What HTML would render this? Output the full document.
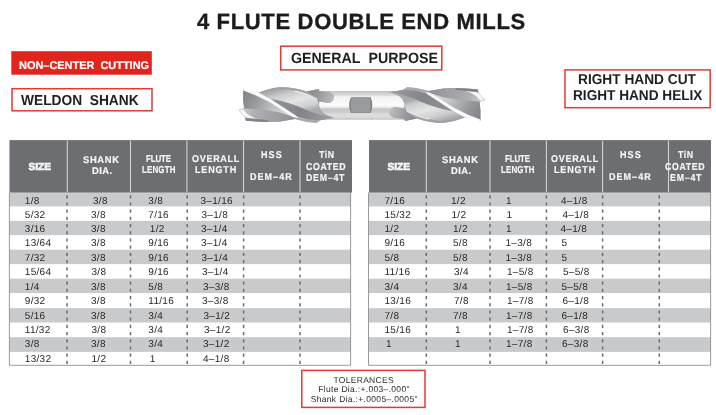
<!DOCTYPE html>
<html><head><meta charset="utf-8"><title>4 Flute Double End Mills</title>
<style>
html,body{margin:0;padding:0;background:#fff;}
body{width:716px;height:415px;position:relative;overflow:hidden;font-family:"Liberation Sans",sans-serif;text-rendering:geometricPrecision;}
.t{position:absolute;white-space:pre;line-height:1;transform-origin:0 50%;display:block;}
.b{position:absolute;}
svg{position:absolute;left:0;top:0;}
#txt{position:absolute;left:0;top:0;width:716px;height:415px;will-change:transform;}
</style></head><body>
<svg width="716" height="415" viewBox="0 0 716 415">

<defs>
<linearGradient id="sh" x1="0" y1="0" x2="0" y2="1">
<stop offset="0" stop-color="#b9babc"/><stop offset="0.06" stop-color="#cfd0d2"/><stop offset="0.14" stop-color="#d4d5d6"/>
<stop offset="0.2" stop-color="#f3f3f3"/><stop offset="0.5" stop-color="#fbfbfb"/><stop offset="0.58" stop-color="#e6e6e7"/>
<stop offset="0.62" stop-color="#c7c8ca"/><stop offset="0.74" stop-color="#c9cacc"/><stop offset="0.8" stop-color="#dddedf"/>
<stop offset="0.94" stop-color="#d9d9db"/><stop offset="1" stop-color="#b4b5b7"/>
</linearGradient>
<linearGradient id="g1" gradientUnits="userSpaceOnUse" x1="45" y1="60" x2="300" y2="200">
<stop offset="0" stop-color="#7e8185"/><stop offset="0.3" stop-color="#96989c"/><stop offset="0.7" stop-color="#c6c7c9"/><stop offset="1" stop-color="#dcdcde"/>
</linearGradient>
<linearGradient id="g2" gradientUnits="userSpaceOnUse" x1="300" y1="40" x2="340" y2="190">
<stop offset="0" stop-color="#a9abae"/><stop offset="0.18" stop-color="#c9cacc"/><stop offset="0.5" stop-color="#e4e4e5"/><stop offset="0.8" stop-color="#cfd0d2"/><stop offset="1" stop-color="#a7a9ac"/>
</linearGradient>
<linearGradient id="g3" gradientUnits="userSpaceOnUse" x1="30" y1="160" x2="330" y2="230">
<stop offset="0" stop-color="#cfd0d2"/><stop offset="0.25" stop-color="#aeb0b3"/><stop offset="1" stop-color="#8e9094"/>
</linearGradient>
<linearGradient id="g4" gradientUnits="userSpaceOnUse" x1="200" y1="110" x2="540" y2="210">
<stop offset="0" stop-color="#909296"/><stop offset="0.5" stop-color="#83858a"/><stop offset="1" stop-color="#9b9da0"/>
</linearGradient>
<linearGradient id="g5" gradientUnits="userSpaceOnUse" x1="400" y1="60" x2="545" y2="110">
<stop offset="0" stop-color="#85878b"/><stop offset="0.45" stop-color="#999b9f"/><stop offset="1" stop-color="#bcbec0"/>
</linearGradient>
<filter id="bl" x="-5%" y="-10%" width="110%" height="120%"><feGaussianBlur stdDeviation="0.4"/></filter>
<g id="cutter" transform="translate(235,80) scale(0.18155)">
  <!-- silhouette base -->
  <path d="M45 52 L90 66 L130 70 C180 52 220 40 260 40 C320 42 360 52 395 64 L460 50 L466 62 L520 68 Q548 78 545 95 Q542 118 520 127 L465 118 C460 140 465 165 485 182 C505 196 530 202 545 208 L470 222 L450 235 L400 232 L330 215 L250 228 L180 232 L60 225 L55 205 L20 165 L50 155 L45 110 Z" fill="#a1a3a6"/>
  <!-- lower flute -->
  <path d="M20 165 L50 155 C120 160 200 170 250 180 L330 200 L345 210 L330 215 L250 228 L180 232 L60 225 L55 205 Z" fill="url(#g3)"/>
  <path d="M26 166 L46 162 C60 185 90 205 125 214 L75 212 C55 205 40 190 26 166 Z" fill="#f7f7f7"/>
  <path d="M60 225 L57 208 L120 215 L185 222 L180 232 Z" fill="#818388"/>
  <!-- lower-right mid -->
  <path d="M330 197 L400 215 L470 222 L450 235 L400 232 L330 215 L345 210 Z" fill="#a9abae"/>
  <!-- left face -->
  <path d="M45 52 L110 80 L200 125 L330 205 L250 180 C200 170 120 160 50 155 L45 110 Z" fill="url(#g1)"/>
  <!-- dark band -->
  <path d="M195 108 C240 112 300 125 400 168 C450 188 500 200 545 208 L470 222 L400 216 L335 197 L260 150 Z" fill="url(#g4)"/>
  <!-- top flute -->
  <path d="M130 70 C180 52 220 40 260 40 C320 42 360 52 395 64 L452 100 C458 125 462 160 485 182 C505 196 530 202 545 208 C500 200 450 188 400 166 C300 123 240 108 195 104 Z" fill="url(#g2)"/>
  <!-- top edge shadow on top flute -->
  <path d="M260 40 C320 42 360 52 395 64 L452 100 L440 100 C400 78 340 58 270 50 C230 50 180 60 140 74 L130 70 C180 52 220 40 260 40 Z" fill="#9c9ea2" opacity="0.85"/>
  <path d="M330 58 C380 68 420 85 452 102 L447 108 C415 90 375 74 325 64 Z" fill="#e9e9ea"/>
  <!-- bright streak -->
  <path d="M45 52 L132 70 L200 108 L335 195 L348 210 L322 205 L192 122 L110 82 L45 58 Z" fill="#fafafa"/>
  <!-- tab -->
  <path d="M395 64 L460 50 L466 62 L520 68 Q548 78 545 95 Q542 118 520 127 L465 118 L452 100 Z" fill="url(#g5)"/>
</g>
</defs>
<g filter="url(#bl)">
<rect x="318" y="91" width="90" height="28.6" fill="url(#sh)"/>
<path d="M351 97.2 H370.6 Q374 105.1 370.6 113 H351 Q347.2 105.1 351 97.2 Z" fill="#7b7d81"/>
<path d="M351.6 97.5 H370 Q371.8 105.1 370 112.7 H351.6 Q349.6 105.1 351.6 97.5 Z" fill="#999b9e"/>
<use href="#cutter"/>
<use href="#cutter" transform="rotate(180 361.8 105)"/>
</g>

<rect x="280.70" y="46.20" width="161.10" height="23.70" fill="#fff" stroke="#e23a35" stroke-width="1.5"/>
<rect x="11.30" y="51.20" width="140.50" height="23.50" fill="#e2241c" />
<rect x="12.00" y="88.70" width="140.00" height="22.10" fill="#fff" stroke="#e23a35" stroke-width="1.5"/>
<rect x="565.00" y="69.90" width="145.20" height="37.80" fill="#fff" stroke="#e23a35" stroke-width="1.5"/>
<rect x="301.80" y="370.40" width="123.20" height="37.00" fill="#fff" stroke="#e23a35" stroke-width="1.5"/>
<rect x="9.40" y="192.60" width="341.60" height="13.80" fill="#c9cacc" />
<rect x="9.40" y="220.90" width="341.60" height="14.20" fill="#c9cacc" />
<rect x="9.40" y="249.70" width="341.60" height="14.40" fill="#c9cacc" />
<rect x="9.40" y="278.70" width="341.60" height="14.40" fill="#c9cacc" />
<rect x="9.40" y="308.20" width="341.60" height="14.30" fill="#c9cacc" />
<rect x="9.40" y="337.20" width="341.60" height="14.70" fill="#c9cacc" />
<path d="M9.40 192.60 V365.30 H350.60 V192.60" fill="none" stroke="#8e8f91" stroke-width="0.9"/>
<rect x="9.50" y="140.10" width="342.50" height="52.50" fill="#6d6e71" />
<line x1="67.30" y1="140.40" x2="67.30" y2="192.00" stroke="#d2d3d5" stroke-width="1.1" />
<line x1="130.50" y1="140.40" x2="130.50" y2="192.00" stroke="#d2d3d5" stroke-width="1.1" />
<line x1="186.90" y1="140.40" x2="186.90" y2="192.00" stroke="#d2d3d5" stroke-width="1.1" />
<line x1="243.50" y1="140.40" x2="243.50" y2="192.00" stroke="#d2d3d5" stroke-width="1.1" />
<line x1="300.00" y1="140.40" x2="300.00" y2="192.00" stroke="#d2d3d5" stroke-width="1.1" />
<line x1="67.00" y1="195.20" x2="67.00" y2="364.80" stroke="#6c6d6f" stroke-width="1.5" stroke-dasharray="3.2 4.0"/>
<line x1="130.50" y1="195.20" x2="130.50" y2="364.80" stroke="#6c6d6f" stroke-width="1.5" stroke-dasharray="3.2 4.0"/>
<line x1="187.20" y1="195.20" x2="187.20" y2="364.80" stroke="#6c6d6f" stroke-width="1.5" stroke-dasharray="3.2 4.0"/>
<line x1="243.60" y1="195.20" x2="243.60" y2="364.80" stroke="#6c6d6f" stroke-width="1.5" stroke-dasharray="3.2 4.0"/>
<line x1="300.00" y1="195.20" x2="300.00" y2="364.80" stroke="#6c6d6f" stroke-width="1.5" stroke-dasharray="3.2 4.0"/>
<rect x="368.50" y="192.60" width="342.50" height="13.80" fill="#c9cacc" />
<rect x="368.50" y="220.90" width="342.50" height="14.20" fill="#c9cacc" />
<rect x="368.50" y="249.70" width="342.50" height="14.40" fill="#c9cacc" />
<rect x="368.50" y="278.70" width="342.50" height="14.40" fill="#c9cacc" />
<rect x="368.50" y="308.20" width="342.50" height="14.30" fill="#c9cacc" />
<rect x="368.50" y="337.20" width="342.50" height="14.70" fill="#c9cacc" />
<path d="M368.50 192.60 V365.30 H710.60 V192.60" fill="none" stroke="#8e8f91" stroke-width="0.9"/>
<rect x="369.00" y="140.10" width="342.00" height="52.50" fill="#6d6e71" />
<line x1="426.30" y1="140.40" x2="426.30" y2="192.00" stroke="#d2d3d5" stroke-width="1.1" />
<line x1="490.00" y1="140.40" x2="490.00" y2="192.00" stroke="#d2d3d5" stroke-width="1.1" />
<line x1="546.40" y1="140.40" x2="546.40" y2="192.00" stroke="#d2d3d5" stroke-width="1.1" />
<line x1="602.60" y1="140.40" x2="602.60" y2="192.00" stroke="#d2d3d5" stroke-width="1.1" />
<line x1="668.50" y1="140.40" x2="668.50" y2="192.00" stroke="#d2d3d5" stroke-width="1.1" />
<line x1="426.30" y1="195.20" x2="426.30" y2="364.80" stroke="#6c6d6f" stroke-width="1.5" stroke-dasharray="3.2 4.0"/>
<line x1="490.00" y1="195.20" x2="490.00" y2="364.80" stroke="#6c6d6f" stroke-width="1.5" stroke-dasharray="3.2 4.0"/>
<line x1="546.40" y1="195.20" x2="546.40" y2="364.80" stroke="#6c6d6f" stroke-width="1.5" stroke-dasharray="3.2 4.0"/>
<line x1="602.60" y1="195.20" x2="602.60" y2="364.80" stroke="#6c6d6f" stroke-width="1.5" stroke-dasharray="3.2 4.0"/>
<line x1="659.30" y1="195.20" x2="659.30" y2="364.80" stroke="#6c6d6f" stroke-width="1.5" stroke-dasharray="3.2 4.0"/>
</svg>
<div id="txt">
<span class="t" style="left:196.90px;top:11px;font-size:22px;color:#1c1c1c;font-weight:bold;letter-spacing:0.670px;-webkit-text-stroke:0.35px #1c1c1c;">4 FLUTE DOUBLE END MILLS</span>
<span class="t" style="left:290.60px;top:52px;font-size:14.8px;color:#1e1e1e;font-weight:bold;transform:scaleX(0.9614);">GENERAL&nbsp; PURPOSE</span>
<span class="t" style="left:19.00px;top:61px;font-size:11px;color:#fff;font-weight:bold;letter-spacing:-0.038px;-webkit-text-stroke:0.2px #fff;">NON–CENTER&nbsp; CUTTING</span>
<span class="t" style="left:21.40px;top:94px;font-size:14.5px;color:#1e1e1e;font-weight:bold;transform:scaleX(0.9480);">WELDON&nbsp; SHANK</span>
<span class="t" style="left:578.30px;top:73px;font-size:14.3px;color:#1e1e1e;font-weight:bold;transform:scaleX(0.9583);">RIGHT HAND CUT</span>
<span class="t" style="left:572.70px;top:89px;font-size:14.3px;color:#1e1e1e;font-weight:bold;transform:scaleX(0.9532);">RIGHT HAND HELIX</span>
<span class="t" style="left:333.50px;top:376px;font-size:8.5px;color:#282828;letter-spacing:0.292px;">TOLERANCES</span>
<span class="t" style="left:318.20px;top:385px;font-size:8.5px;color:#282828;letter-spacing:0.322px;">Flute Dia.:+.003–.000"</span>
<span class="t" style="left:310.70px;top:395px;font-size:8.5px;color:#282828;letter-spacing:0.331px;">Shank Dia.:+.0005–.0005"</span>
<span class="t" style="left:28.40px;top:163px;font-size:10.2px;color:#f4f4f4;font-weight:bold;letter-spacing:0.009px;-webkit-text-stroke:0.7px #f4f4f4;">SIZE</span>
<span class="t" style="left:83.20px;top:156px;font-size:9.7px;color:#f4f4f4;font-weight:bold;transform:scaleX(0.97);letter-spacing:0.681px;-webkit-text-stroke:0.2px #f4f4f4;">SHANK</span>
<span class="t" style="left:91.60px;top:167px;font-size:9.7px;color:#f4f4f4;font-weight:bold;transform:scaleX(0.97);letter-spacing:0.441px;-webkit-text-stroke:0.2px #f4f4f4;">DIA.</span>
<span class="t" style="left:145.90px;top:155px;font-size:10.2px;color:#f4f4f4;font-weight:bold;transform:scaleX(0.78);letter-spacing:-0.139px;-webkit-text-stroke:0.2px #f4f4f4;">FLUTE</span>
<span class="t" style="left:141.70px;top:166px;font-size:10.2px;color:#f4f4f4;font-weight:bold;transform:scaleX(0.78);letter-spacing:0.203px;-webkit-text-stroke:0.2px #f4f4f4;">LENGTH</span>
<span class="t" style="left:191.70px;top:155px;font-size:10px;color:#f4f4f4;font-weight:bold;transform:scaleX(0.9);letter-spacing:0.796px;-webkit-text-stroke:0.2px #f4f4f4;">OVERALL</span>
<span class="t" style="left:195.00px;top:166px;font-size:10px;color:#f4f4f4;font-weight:bold;transform:scaleX(0.9);letter-spacing:0.934px;-webkit-text-stroke:0.2px #f4f4f4;">LENGTH</span>
<span class="t" style="left:260.50px;top:151px;font-size:10px;color:#f4f4f4;font-weight:bold;transform:scaleX(0.9);letter-spacing:1.219px;-webkit-text-stroke:0.2px #f4f4f4;">HSS</span>
<span class="t" style="left:250.10px;top:173px;font-size:10px;color:#f4f4f4;font-weight:bold;transform:scaleX(0.9);letter-spacing:1.153px;-webkit-text-stroke:0.2px #f4f4f4;">DEM–4R</span>
<span class="t" style="left:318.60px;top:151px;font-size:10.2px;color:#f4f4f4;font-weight:bold;transform:scaleX(0.86);letter-spacing:0.656px;-webkit-text-stroke:0.2px #f4f4f4;">TiN</span>
<span class="t" style="left:305.90px;top:163px;font-size:10.2px;color:#f4f4f4;font-weight:bold;transform:scaleX(0.86);letter-spacing:0.724px;-webkit-text-stroke:0.2px #f4f4f4;">COATED</span>
<span class="t" style="left:306.40px;top:174px;font-size:10.2px;color:#f4f4f4;font-weight:bold;transform:scaleX(0.86);letter-spacing:0.905px;-webkit-text-stroke:0.2px #f4f4f4;">DEM–4T</span>
<span class="t" style="left:387.40px;top:163px;font-size:10.2px;color:#f4f4f4;font-weight:bold;letter-spacing:0.009px;-webkit-text-stroke:0.7px #f4f4f4;">SIZE</span>
<span class="t" style="left:442.20px;top:156px;font-size:9.7px;color:#f4f4f4;font-weight:bold;transform:scaleX(0.97);letter-spacing:0.681px;-webkit-text-stroke:0.2px #f4f4f4;">SHANK</span>
<span class="t" style="left:450.60px;top:167px;font-size:9.7px;color:#f4f4f4;font-weight:bold;transform:scaleX(0.97);letter-spacing:0.441px;-webkit-text-stroke:0.2px #f4f4f4;">DIA.</span>
<span class="t" style="left:504.90px;top:155px;font-size:10.2px;color:#f4f4f4;font-weight:bold;transform:scaleX(0.78);letter-spacing:-0.139px;-webkit-text-stroke:0.2px #f4f4f4;">FLUTE</span>
<span class="t" style="left:500.70px;top:166px;font-size:10.2px;color:#f4f4f4;font-weight:bold;transform:scaleX(0.78);letter-spacing:0.203px;-webkit-text-stroke:0.2px #f4f4f4;">LENGTH</span>
<span class="t" style="left:550.70px;top:155px;font-size:10px;color:#f4f4f4;font-weight:bold;transform:scaleX(0.9);letter-spacing:0.796px;-webkit-text-stroke:0.2px #f4f4f4;">OVERALL</span>
<span class="t" style="left:554.00px;top:166px;font-size:10px;color:#f4f4f4;font-weight:bold;transform:scaleX(0.9);letter-spacing:0.934px;-webkit-text-stroke:0.2px #f4f4f4;">LENGTH</span>
<span class="t" style="left:619.50px;top:151px;font-size:10px;color:#f4f4f4;font-weight:bold;transform:scaleX(0.9);letter-spacing:1.219px;-webkit-text-stroke:0.2px #f4f4f4;">HSS</span>
<span class="t" style="left:609.10px;top:173px;font-size:10px;color:#f4f4f4;font-weight:bold;transform:scaleX(0.9);letter-spacing:1.153px;-webkit-text-stroke:0.2px #f4f4f4;">DEM–4R</span>
<span class="t" style="left:677.60px;top:151px;font-size:10.2px;color:#f4f4f4;font-weight:bold;transform:scaleX(0.86);letter-spacing:0.714px;-webkit-text-stroke:0.2px #f4f4f4;">TiN</span>
<span class="t" style="left:665.30px;top:163px;font-size:10.2px;color:#f4f4f4;font-weight:bold;transform:scaleX(0.86);letter-spacing:0.747px;-webkit-text-stroke:0.2px #f4f4f4;">COATED</span>
<div class="b" style="left:669px;top:140px;width:42px;height:52px;overflow:hidden;">
<span class="t" style="left:-6.30px;top:34px;font-size:10.2px;color:#f4f4f4;font-weight:bold;transform:scaleX(0.86);letter-spacing:0.905px;-webkit-text-stroke:0.2px #f4f4f4;">DEM–4T</span>
</div>
<span class="t" style="left:24.80px;top:197px;font-size:10px;color:#282828;letter-spacing:0.300px;">1/8</span>
<span class="t" style="left:93.00px;top:197px;font-size:10px;color:#282828;letter-spacing:0.300px;">3/8</span>
<span class="t" style="left:148.30px;top:197px;font-size:10px;color:#282828;letter-spacing:0.300px;">3/8</span>
<span class="t" style="left:200.50px;top:197px;font-size:10px;color:#282828;letter-spacing:0.300px;">3–1/16</span>
<span class="t" style="left:24.80px;top:211px;font-size:10px;color:#282828;letter-spacing:0.300px;">5/32</span>
<span class="t" style="left:91.00px;top:211px;font-size:10px;color:#282828;letter-spacing:0.300px;">3/8</span>
<span class="t" style="left:148.30px;top:211px;font-size:10px;color:#282828;letter-spacing:0.300px;">7/16</span>
<span class="t" style="left:201.50px;top:211px;font-size:10px;color:#282828;letter-spacing:0.300px;">3–1/8</span>
<span class="t" style="left:24.80px;top:225px;font-size:10px;color:#282828;letter-spacing:0.300px;">3/16</span>
<span class="t" style="left:91.00px;top:225px;font-size:10px;color:#282828;letter-spacing:0.300px;">3/8</span>
<span class="t" style="left:149.80px;top:225px;font-size:10px;color:#282828;letter-spacing:0.300px;">1/2</span>
<span class="t" style="left:201.00px;top:225px;font-size:10px;color:#282828;letter-spacing:0.300px;">3–1/4</span>
<span class="t" style="left:24.80px;top:239px;font-size:10px;color:#282828;letter-spacing:0.300px;">13/64</span>
<span class="t" style="left:91.00px;top:239px;font-size:10px;color:#282828;letter-spacing:0.300px;">3/8</span>
<span class="t" style="left:148.30px;top:239px;font-size:10px;color:#282828;letter-spacing:0.300px;">9/16</span>
<span class="t" style="left:201.00px;top:239px;font-size:10px;color:#282828;letter-spacing:0.300px;">3–1/4</span>
<span class="t" style="left:24.80px;top:254px;font-size:10px;color:#282828;letter-spacing:0.300px;">7/32</span>
<span class="t" style="left:91.00px;top:254px;font-size:10px;color:#282828;letter-spacing:0.300px;">3/8</span>
<span class="t" style="left:148.30px;top:254px;font-size:10px;color:#282828;letter-spacing:0.300px;">9/16</span>
<span class="t" style="left:201.50px;top:254px;font-size:10px;color:#282828;letter-spacing:0.300px;">3–1/4</span>
<span class="t" style="left:24.80px;top:268px;font-size:10px;color:#282828;letter-spacing:0.300px;">15/64</span>
<span class="t" style="left:91.50px;top:268px;font-size:10px;color:#282828;letter-spacing:0.300px;">3/8</span>
<span class="t" style="left:148.30px;top:268px;font-size:10px;color:#282828;letter-spacing:0.300px;">9/16</span>
<span class="t" style="left:202.00px;top:268px;font-size:10px;color:#282828;letter-spacing:0.300px;">3–1/4</span>
<span class="t" style="left:24.80px;top:283px;font-size:10px;color:#282828;letter-spacing:0.300px;">1/4</span>
<span class="t" style="left:91.00px;top:283px;font-size:10px;color:#282828;letter-spacing:0.300px;">3/8</span>
<span class="t" style="left:148.30px;top:283px;font-size:10px;color:#282828;letter-spacing:0.300px;">5/8</span>
<span class="t" style="left:203.00px;top:283px;font-size:10px;color:#282828;letter-spacing:0.300px;">3–3/8</span>
<span class="t" style="left:24.80px;top:297px;font-size:10px;color:#282828;letter-spacing:0.300px;">9/32</span>
<span class="t" style="left:91.00px;top:297px;font-size:10px;color:#282828;letter-spacing:0.300px;">3/8</span>
<span class="t" style="left:148.30px;top:297px;font-size:10px;color:#282828;letter-spacing:0.300px;">11/16</span>
<span class="t" style="left:202.00px;top:297px;font-size:10px;color:#282828;letter-spacing:0.300px;">3–3/8</span>
<span class="t" style="left:24.80px;top:312px;font-size:10px;color:#282828;letter-spacing:0.300px;">5/16</span>
<span class="t" style="left:91.00px;top:312px;font-size:10px;color:#282828;letter-spacing:0.300px;">3/8</span>
<span class="t" style="left:148.30px;top:312px;font-size:10px;color:#282828;letter-spacing:0.300px;">3/4</span>
<span class="t" style="left:203.50px;top:312px;font-size:10px;color:#282828;letter-spacing:0.300px;">3–1/2</span>
<span class="t" style="left:24.80px;top:326px;font-size:10px;color:#282828;letter-spacing:0.300px;">11/32</span>
<span class="t" style="left:91.50px;top:326px;font-size:10px;color:#282828;letter-spacing:0.300px;">3/8</span>
<span class="t" style="left:148.30px;top:326px;font-size:10px;color:#282828;letter-spacing:0.300px;">3/4</span>
<span class="t" style="left:204.00px;top:326px;font-size:10px;color:#282828;letter-spacing:0.300px;">3–1/2</span>
<span class="t" style="left:24.80px;top:340px;font-size:10px;color:#282828;letter-spacing:0.300px;">3/8</span>
<span class="t" style="left:91.00px;top:340px;font-size:10px;color:#282828;letter-spacing:0.300px;">3/8</span>
<span class="t" style="left:148.30px;top:340px;font-size:10px;color:#282828;letter-spacing:0.300px;">3/4</span>
<span class="t" style="left:203.00px;top:340px;font-size:10px;color:#282828;letter-spacing:0.300px;">3–1/2</span>
<span class="t" style="left:24.80px;top:355px;font-size:10px;color:#282828;letter-spacing:0.300px;">13/32</span>
<span class="t" style="left:91.50px;top:355px;font-size:10px;color:#282828;letter-spacing:0.300px;">1/2</span>
<span class="t" style="left:149.80px;top:355px;font-size:10px;color:#282828;letter-spacing:0.000px;">1</span>
<span class="t" style="left:203.00px;top:355px;font-size:10px;color:#282828;letter-spacing:0.300px;">4–1/8</span>
<span class="t" style="left:384.50px;top:197px;font-size:10px;color:#282828;letter-spacing:0.300px;">7/16</span>
<span class="t" style="left:451.00px;top:197px;font-size:10px;color:#282828;letter-spacing:0.300px;">1/2</span>
<span class="t" style="left:506.00px;top:197px;font-size:10px;color:#282828;letter-spacing:0.000px;">1</span>
<span class="t" style="left:561.00px;top:197px;font-size:10px;color:#282828;letter-spacing:0.300px;">4–1/8</span>
<span class="t" style="left:384.50px;top:211px;font-size:10px;color:#282828;letter-spacing:0.300px;">15/32</span>
<span class="t" style="left:451.50px;top:211px;font-size:10px;color:#282828;letter-spacing:0.300px;">1/2</span>
<span class="t" style="left:506.50px;top:211px;font-size:10px;color:#282828;letter-spacing:-0.000px;">1</span>
<span class="t" style="left:562.50px;top:211px;font-size:10px;color:#282828;letter-spacing:0.300px;">4–1/8</span>
<span class="t" style="left:384.50px;top:225px;font-size:10px;color:#282828;letter-spacing:0.300px;">1/2</span>
<span class="t" style="left:453.00px;top:225px;font-size:10px;color:#282828;letter-spacing:0.300px;">1/2</span>
<span class="t" style="left:506.00px;top:225px;font-size:10px;color:#282828;letter-spacing:0.000px;">1</span>
<span class="t" style="left:560.50px;top:225px;font-size:10px;color:#282828;letter-spacing:0.300px;">4–1/8</span>
<span class="t" style="left:384.50px;top:239px;font-size:10px;color:#282828;letter-spacing:0.300px;">9/16</span>
<span class="t" style="left:453.00px;top:239px;font-size:10px;color:#282828;letter-spacing:0.300px;">5/8</span>
<span class="t" style="left:505.50px;top:239px;font-size:10px;color:#282828;letter-spacing:0.300px;">1–3/8</span>
<span class="t" style="left:561.50px;top:239px;font-size:10px;color:#282828;letter-spacing:-0.000px;">5</span>
<span class="t" style="left:384.50px;top:254px;font-size:10px;color:#282828;letter-spacing:0.300px;">5/8</span>
<span class="t" style="left:453.00px;top:254px;font-size:10px;color:#282828;letter-spacing:0.300px;">5/8</span>
<span class="t" style="left:505.50px;top:254px;font-size:10px;color:#282828;letter-spacing:0.300px;">1–3/8</span>
<span class="t" style="left:561.50px;top:254px;font-size:10px;color:#282828;letter-spacing:-0.000px;">5</span>
<span class="t" style="left:384.50px;top:268px;font-size:10px;color:#282828;letter-spacing:0.300px;">11/16</span>
<span class="t" style="left:454.00px;top:268px;font-size:10px;color:#282828;letter-spacing:0.300px;">3/4</span>
<span class="t" style="left:507.00px;top:268px;font-size:10px;color:#282828;letter-spacing:0.300px;">1–5/8</span>
<span class="t" style="left:563.00px;top:268px;font-size:10px;color:#282828;letter-spacing:0.300px;">5–5/8</span>
<span class="t" style="left:384.50px;top:283px;font-size:10px;color:#282828;letter-spacing:0.300px;">3/4</span>
<span class="t" style="left:453.00px;top:283px;font-size:10px;color:#282828;letter-spacing:0.300px;">3/4</span>
<span class="t" style="left:506.00px;top:283px;font-size:10px;color:#282828;letter-spacing:0.300px;">1–5/8</span>
<span class="t" style="left:561.50px;top:283px;font-size:10px;color:#282828;letter-spacing:0.300px;">5–5/8</span>
<span class="t" style="left:384.50px;top:297px;font-size:10px;color:#282828;letter-spacing:0.300px;">13/16</span>
<span class="t" style="left:454.00px;top:297px;font-size:10px;color:#282828;letter-spacing:0.300px;">7/8</span>
<span class="t" style="left:507.00px;top:297px;font-size:10px;color:#282828;letter-spacing:0.300px;">1–7/8</span>
<span class="t" style="left:562.50px;top:297px;font-size:10px;color:#282828;letter-spacing:0.300px;">6–1/8</span>
<span class="t" style="left:384.50px;top:312px;font-size:10px;color:#282828;letter-spacing:0.300px;">7/8</span>
<span class="t" style="left:453.00px;top:312px;font-size:10px;color:#282828;letter-spacing:0.300px;">7/8</span>
<span class="t" style="left:506.00px;top:312px;font-size:10px;color:#282828;letter-spacing:0.300px;">1–7/8</span>
<span class="t" style="left:561.50px;top:312px;font-size:10px;color:#282828;letter-spacing:0.300px;">6–1/8</span>
<span class="t" style="left:384.50px;top:326px;font-size:10px;color:#282828;letter-spacing:0.300px;">15/16</span>
<span class="t" style="left:455.00px;top:326px;font-size:10px;color:#282828;letter-spacing:0.000px;">1</span>
<span class="t" style="left:507.00px;top:326px;font-size:10px;color:#282828;letter-spacing:0.300px;">1–7/8</span>
<span class="t" style="left:563.00px;top:326px;font-size:10px;color:#282828;letter-spacing:0.300px;">6–3/8</span>
<span class="t" style="left:386.00px;top:340px;font-size:10px;color:#282828;letter-spacing:0.000px;">1</span>
<span class="t" style="left:455.00px;top:340px;font-size:10px;color:#282828;letter-spacing:0.000px;">1</span>
<span class="t" style="left:506.00px;top:340px;font-size:10px;color:#282828;letter-spacing:0.300px;">1–7/8</span>
<span class="t" style="left:562.00px;top:340px;font-size:10px;color:#282828;letter-spacing:0.300px;">6–3/8</span>
</div>
</body></html>
